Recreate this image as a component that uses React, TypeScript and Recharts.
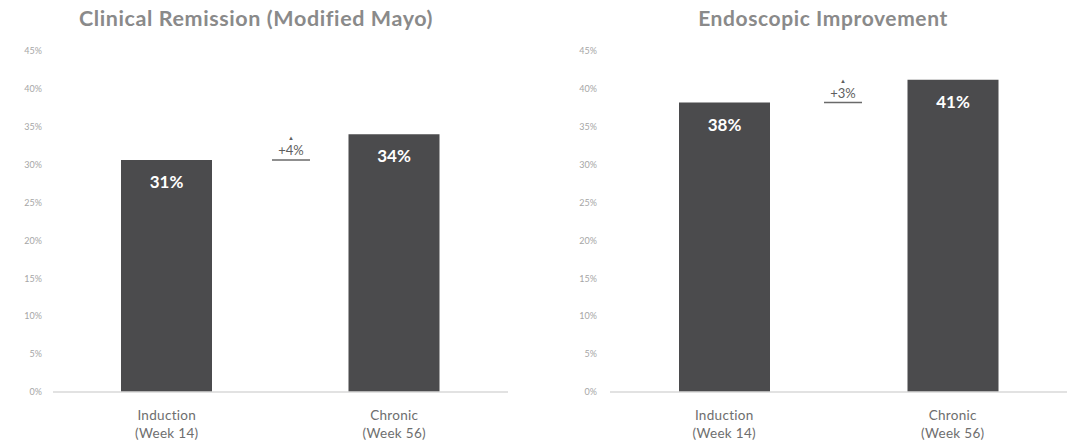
import React from "react";
import { BarChart, Bar, XAxis, YAxis, LabelList } from "recharts";

const categories = ["Induction\n(Week 14)", "Chronic\n(Week 56)"];
const remissionValues = [30.6, 34.0];
const remissionLabels = ["31%", "34%"];
const improvementValues = [38.2, 41.2];
const improvementLabels = ["38%", "41%"];
const deltaLabels = ["+4%", "+3%"];
const yTicks = [0, 5, 10, 15, 20, 25, 30, 35, 40, 45];
const titles = ["Clinical Remission (Modified Mayo)", "Endoscopic Improvement"];

const FONT = "Lato, 'Open Sans', sans-serif";
const BAR_COLOR = "#4b4b4d";

const remissionData = categories.map((c, i) => ({ cat: c, value: remissionValues[i], label: remissionLabels[i] }));
const improvementData = categories.map((c, i) => ({ cat: c, value: improvementValues[i], label: improvementLabels[i] }));

const XTick = (props: any) => {
  const { x, y, payload } = props;
  const lines = String(payload.value).split("\n");
  return (
    <g transform={`translate(${x},${y})`}>
      {lines.map((l: string, i: number) => (
        <text key={i} x={0} y={20 + i * 18} textAnchor="middle" fill="#6e6e6e" fontSize={13.5} fontFamily={FONT} letterSpacing={0.3}>
          {l}
        </text>
      ))}
    </g>
  );
};

const makeLabel = (labels: string[], delta: string, deltaOffset: number) => (props: any) => {
  const { x, y, width, index } = props;
  const cx = x + width / 2;
  return (
    <g>
      <text x={cx} y={y + 28} textAnchor="middle" fill="#ffffff" fontSize={17} fontWeight={700} fontFamily={FONT}>
        {labels[index]}
      </text>
      {index === 0 && (
        <g>
          <text x={x + width + deltaOffset} y={y - 5} textAnchor="middle" fill="#5e5e5e" fontSize={13} fontFamily={FONT}>
            {delta}
          </text>
          <text x={x + width + deltaOffset} y={y - 20} textAnchor="middle" fill="#5e5e5e" fontSize={6} fontFamily={FONT}>
            ▲
          </text>
          <line x1={x + width + deltaOffset - 19} x2={x + width + deltaOffset + 19} y1={y} y2={y} stroke="#6a6a6a" strokeWidth={1.5} />
        </g>
      )}
    </g>
  );
};

const Panel = (props: { data: any[]; title: string; labels: string[]; delta: string; width: number; yWidth: number; right: number; titleX: number; deltaOffset: number; tickMargin: number; titleSize: number }) => {
  const { data, title, labels, delta, width, yWidth, right, titleX, deltaOffset, tickMargin, titleSize } = props;
  return (
    <div style={{ position: "relative", width, height: 446 }}>
      <div
        style={{
          position: "absolute",
          left: titleX - 250,
          width: 500,
          top: 5,
          textAlign: "center",
          fontFamily: FONT,
          fontWeight: 700,
          fontSize: titleSize,
          letterSpacing: 0.6,
          color: "#8a8a8a",
        }}
      >
        {title}
      </div>
      <BarChart width={width} height={446} data={data} margin={{ top: 51, right, bottom: 0, left: 0 }}>
        <XAxis
          dataKey="cat"
          height={54}
          tickLine={false}
          axisLine={{ stroke: "#d8d8d8", strokeWidth: 1.5 }}
          tick={<XTick />}
          interval={0}
        />
        <YAxis
          width={yWidth}
          domain={[0, 45]}
          ticks={yTicks}
          tickLine={false}
          axisLine={false}
          tickSize={0}
          tickMargin={tickMargin}
          tickFormatter={(v: number) => `${v}%`}
          tick={{ fill: "#a6a6a6", fontSize: 9, fontFamily: FONT }}
        />
        <Bar dataKey="value" fill={BAR_COLOR} barSize={91} isAnimationActive={false}>
          <LabelList dataKey="label" content={makeLabel(labels, delta, deltaOffset)} />
        </Bar>
      </BarChart>
    </div>
  );
};

export default function App() {
  return (
    <div style={{ position: "absolute", left: 0, top: 0, width: 1078, height: 446, background: "#ffffff", display: "flex" }}>
      <Panel data={remissionData} title={titles[0]} labels={remissionLabels} delta={deltaLabels[0]} width={540} yWidth={53} right={32} titleX={256} deltaOffset={79} tickMargin={11} titleSize={21.5} />
      <Panel data={improvementData} title={titles[1]} labels={improvementLabels} delta={deltaLabels[1]} width={538} yWidth={70} right={11} titleX={283} deltaOffset={73} tickMargin={13} titleSize={21} />
    </div>
  );
}
